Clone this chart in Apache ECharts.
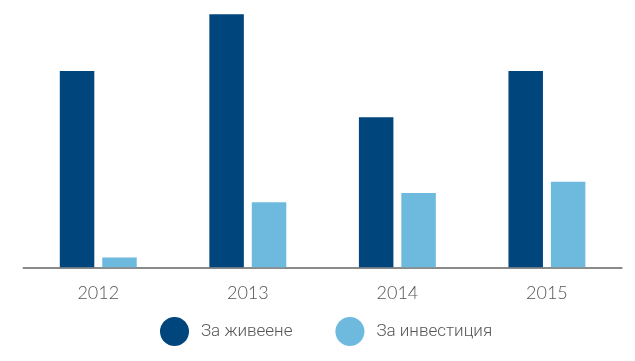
<!DOCTYPE html>
<html>
<head>
<meta charset="utf-8">
<script src="https://cdn.jsdelivr.net/npm/echarts@6/dist/echarts.min.js"></script>
<style>html,body{margin:0;padding:0;background:#fff}#c{width:635px;height:361px}</style>
</head>
<body>
<div id="c"></div>
<script>
const categories = ['2012', '2013', '2014', '2015'];
const seriesNames = ['За живеене', 'За инвестиция'];
const livingValues = [77.6, 100, 59.3, 77.6];
const investValues = [3.9, 25.7, 29.4, 33.8];

const chart = echarts.init(document.getElementById('c'));
chart.setOption({
  animation: false,
  grid: { left: 23.5, right: 13.3, top: 14.3, bottom: 93.7, containLabel: false },
  legend: {
    top: 312,
    left: 155,
    icon: 'circle',
    itemWidth: 29,
    itemHeight: 29,
    itemGap: 43,
    textStyle: { fontFamily: 'Roboto', fontWeight: 300, fontSize: 17, color: '#555', padding: [0, 0, 0, 7] },
    data: seriesNames
  },
  xAxis: {
    type: 'category',
    data: categories,
    axisLine: { lineStyle: { color: '#8a8a8a', width: 2 } },
    axisTick: { show: false },
    axisLabel: { fontFamily: 'Lato', fontWeight: 300, fontSize: 18, color: '#555', margin: 17 }
  },
  yAxis: {
    type: 'value', min: 0, max: 100,
    show: false,
    splitLine: { show: false }
  },
  series: [
    { name: seriesNames[0], type: 'bar', data: livingValues, barWidth: 34.5, barGap: '23%', itemStyle: { color: '#00457c' } },
    { name: seriesNames[1], type: 'bar', data: investValues, barWidth: 34.5, itemStyle: { color: '#6dbade' } }
  ]
});
</script>
</body>
</html>
